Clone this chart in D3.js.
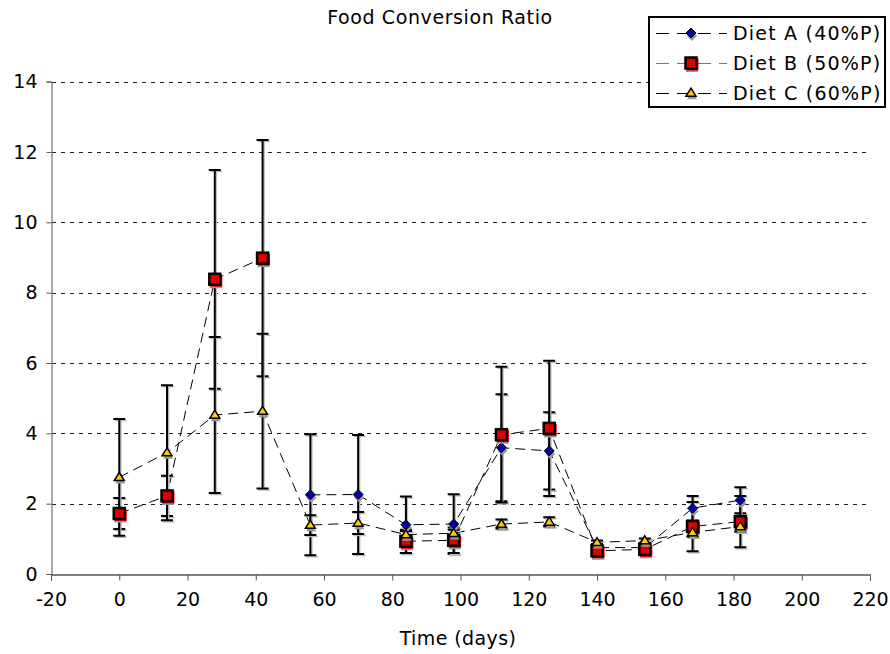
<!DOCTYPE html>
<html>
<head>
<meta charset="utf-8">
<script src="https://cdn.jsdelivr.net/npm/d3@7"></script>
<style>
  body { margin: 0; background: #fff; }
  svg { display: block; }
  text { font-family: "DejaVu Sans", Verdana, sans-serif; fill: #000; }
</style>
</head>
<body>
<svg id="chart" width="890" height="654"></svg>
<script>
// Sampling days
const days = [0, 14, 28, 42, 56, 70, 84, 98, 112, 126, 140, 154, 168, 182];

// Food conversion ratio per diet (mean and error), null = not measured
const dietA    = [null, null, null, null, 2.25, 2.26, 1.40, 1.42, 3.59, 3.50, 0.75, 0.75, 1.87, 2.10];
const dietAErr = [null, null, null, null, 1.72, 1.69, 0.80, 0.85, 1.52, 1.10, 0.10, 0.10, 0.35, 0.37];
const dietB    = [1.72, 2.22, 8.38, 8.98, null, null, 0.93, 0.96, 3.96, 4.14, 0.66, 0.70, 1.35, 1.49];
const dietBErr = [0.44, 0.57, 3.11, 3.36, null, null, 0.33, 0.36, 1.93, 1.92, 0.10, 0.10, 0.70, 0.73];
const dietC    = [2.75, 3.45, 4.52, 4.63, 1.39, 1.45, 1.12, 1.16, 1.42, 1.48, 0.90, 0.95, 1.18, 1.35];
const dietCErr = [1.66, 1.92, 2.22, 2.20, 0.28, 0.31, 0.10, 0.10, 0.13, 0.13, 0.05, 0.06, 0.12, 0.15];

const seriesNames = ["Diet A (40%P)", "Diet B (50%P)", "Diet C (60%P)"];
const xTicks = [-20, 0, 20, 40, 60, 80, 100, 120, 140, 160, 180, 200, 220];
const yTicks = [0, 2, 4, 6, 8, 10, 12, 14];

const chartTitle = "Food Conversion Ratio";
const xTitle = "Time (days)";

const series = [
  { name: seriesNames[0], values: dietA, errors: dietAErr, shape: "diamond" },
  { name: seriesNames[1], values: dietB, errors: dietBErr, shape: "square" },
  { name: seriesNames[2], values: dietC, errors: dietCErr, shape: "triangle" }
];

const svg = d3.select("#chart");
const plot = { left: 51, right: 870, top: 81.6, bottom: 574 };

const x = d3.scaleLinear().domain([-20, 220]).range([plot.left, plot.right]);
const y = d3.scaleLinear().domain([0, 14]).range([plot.bottom, plot.top]);

const FONT = 19;
const plain = d => String(d);   // ASCII hyphen for negatives

// Horizontal dotted gridlines
svg.append("g").selectAll("line")
  .data(yTicks.filter(v => v > 0))
  .join("line")
  .attr("x1", plot.left + 1).attr("x2", plot.right)
  .attr("y1", d => Math.round(y(d)) + 0.5).attr("y2", d => Math.round(y(d)) + 0.5)
  .attr("stroke", "#222").attr("stroke-width", 1)
  .attr("stroke-dasharray", "4,5");

// Y axis
const yAxis = d3.axisLeft(y).tickValues(yTicks).tickFormat(plain).tickSize(5).tickPadding(9);
const gy = svg.append("g")
  .attr("transform", `translate(${plot.left + 0.5},0)`)
  .call(yAxis);
gy.select(".domain").attr("stroke", "#555");
gy.selectAll(".tick line").attr("stroke", "#555");
gy.selectAll(".tick text").attr("font-size", FONT).attr("font-family", "DejaVu Sans, Verdana, sans-serif")
  .attr("fill", "#000");

// X axis
const xAxis = d3.axisBottom(x).tickValues(xTicks).tickFormat(plain).tickSize(6).tickPadding(12);
const gx = svg.append("g")
  .attr("transform", `translate(0,${plot.bottom + 0.5})`)
  .call(xAxis);
gx.select(".domain").attr("stroke", "#000");
gx.selectAll(".tick line").attr("stroke", "#555");
gx.selectAll(".tick text").attr("font-size", FONT).attr("font-family", "DejaVu Sans, Verdana, sans-serif")
  .attr("fill", "#000");

// Titles
svg.append("text").attr("x", 440).attr("y", 24).attr("text-anchor", "middle")
  .attr("font-size", FONT).attr("letter-spacing", 0.6).text(chartTitle);
svg.append("text").attr("x", 458).attr("y", 645).attr("text-anchor", "middle")
  .attr("font-size", FONT).attr("letter-spacing", 0.4).text(xTitle);

// Connecting dashed lines (gaps where data are missing)
const line = d3.line()
  .defined(d => d.v != null)
  .x(d => x(d.t)).y(d => y(d.v));

const pointsOf = s => days.map((t, i) => ({ t, v: s.values[i], e: s.errors[i] }));

svg.append("g").selectAll("path")
  .data(series)
  .join("path")
  .attr("d", s => line(pointsOf(s)))
  .attr("fill", "none").attr("stroke", "#000").attr("stroke-width", 1)
  .attr("stroke-dasharray", "10,6");

// Error bars
const eb = svg.append("g");
series.forEach(s => {
  const pts = pointsOf(s).filter(d => d.v != null && d.e != null);
  const g = eb.append("g");
  // soft grey edge
  g.selectAll(".sh").data(pts).join("path").attr("class", "sh")
    .attr("d", d => {
      const cx = x(d.t) + 1.5, y1 = y(d.v + d.e) + 1.5, y2 = y(d.v - d.e) + 1.5;
      return `M${cx},${y1}V${y2}M${cx - 6},${y1}H${cx + 6}M${cx - 6},${y2}H${cx + 6}`;
    })
    .attr("stroke", "#bbb").attr("stroke-width", 1.5).attr("fill", "none");
  g.selectAll(".bar").data(pts).join("path").attr("class", "bar")
    .attr("d", d => {
      const cx = x(d.t), y1 = y(d.v + d.e), y2 = y(d.v - d.e);
      return `M${cx},${y1}V${y2}M${cx - 6},${y1}H${cx + 6}M${cx - 6},${y2}H${cx + 6}`;
    })
    .attr("stroke", "#000").attr("stroke-width", 2).attr("fill", "none");
});

// Marker drawing
function drawMarker(g, shape, cx, cy) {
  if (shape === "diamond") {
    const r = 5;
    const d = (ox, oy) => `M${cx + ox},${cy + oy - r}L${cx + ox + r},${cy + oy}L${cx + ox},${cy + oy + r}L${cx + ox - r},${cy + oy}Z`;
    g.append("path").attr("d", d(1, 3)).attr("fill", "#999");
    g.append("path").attr("d", d(0, 0)).attr("fill", "#0000a0").attr("stroke", "#000").attr("stroke-width", 1);
  } else if (shape === "square") {
    const h = 6;
    g.append("rect").attr("x", cx - h + 1).attr("y", cy - h + 3).attr("width", 2 * h).attr("height", 2 * h).attr("fill", "#999");
    g.append("rect").attr("x", cx - h + 1.5).attr("y", cy - h + 1.5).attr("width", 2 * h).attr("height", 2 * h).attr("fill", "#ff0000");
    g.append("rect").attr("x", cx - h + 0.5).attr("y", cy - h + 0.5).attr("width", 2 * h - 1).attr("height", 2 * h - 1)
      .attr("fill", "#e00000").attr("stroke", "#000").attr("stroke-width", 2.5);
  } else {
    const w = 5, ht = 8;
    const d = (ox, oy) => `M${cx + ox},${cy + oy - ht * 0.6}L${cx + ox + w},${cy + oy + ht * 0.4}L${cx + ox - w},${cy + oy + ht * 0.4}Z`;
    g.append("path").attr("d", d(1, 3)).attr("fill", "#999");
    g.append("path").attr("d", d(0, 0)).attr("fill", "#ffcc00").attr("stroke", "#000").attr("stroke-width", 1.5)
      .attr("stroke-linejoin", "miter");
  }
}

const mk = svg.append("g");
series.forEach(s => {
  pointsOf(s).filter(d => d.v != null).forEach(d => drawMarker(mk, s.shape, x(d.t), y(d.v)));
});

// Legend
const lg = svg.append("g");
lg.append("rect").attr("x", 649).attr("y", 17).attr("width", 236).attr("height", 90)
  .attr("fill", "#fff").attr("stroke", "#000").attr("stroke-width", 2);
series.forEach((s, i) => {
  const ly = 33 + i * 30;
  lg.append("line").attr("x1", 656).attr("x2", 727).attr("y1", ly + 0.5).attr("y2", ly + 0.5)
    .attr("stroke", i === 1 ? "#777" : "#000").attr("stroke-width", 1)
    .attr("stroke-dasharray", "13,8");
  drawMarker(lg, s.shape, 691, ly);
  lg.append("text").attr("x", 733).attr("y", ly + 7).attr("font-size", FONT)
    .attr("letter-spacing", 1.2).text(s.name);
});
</script>
</body>
</html>
